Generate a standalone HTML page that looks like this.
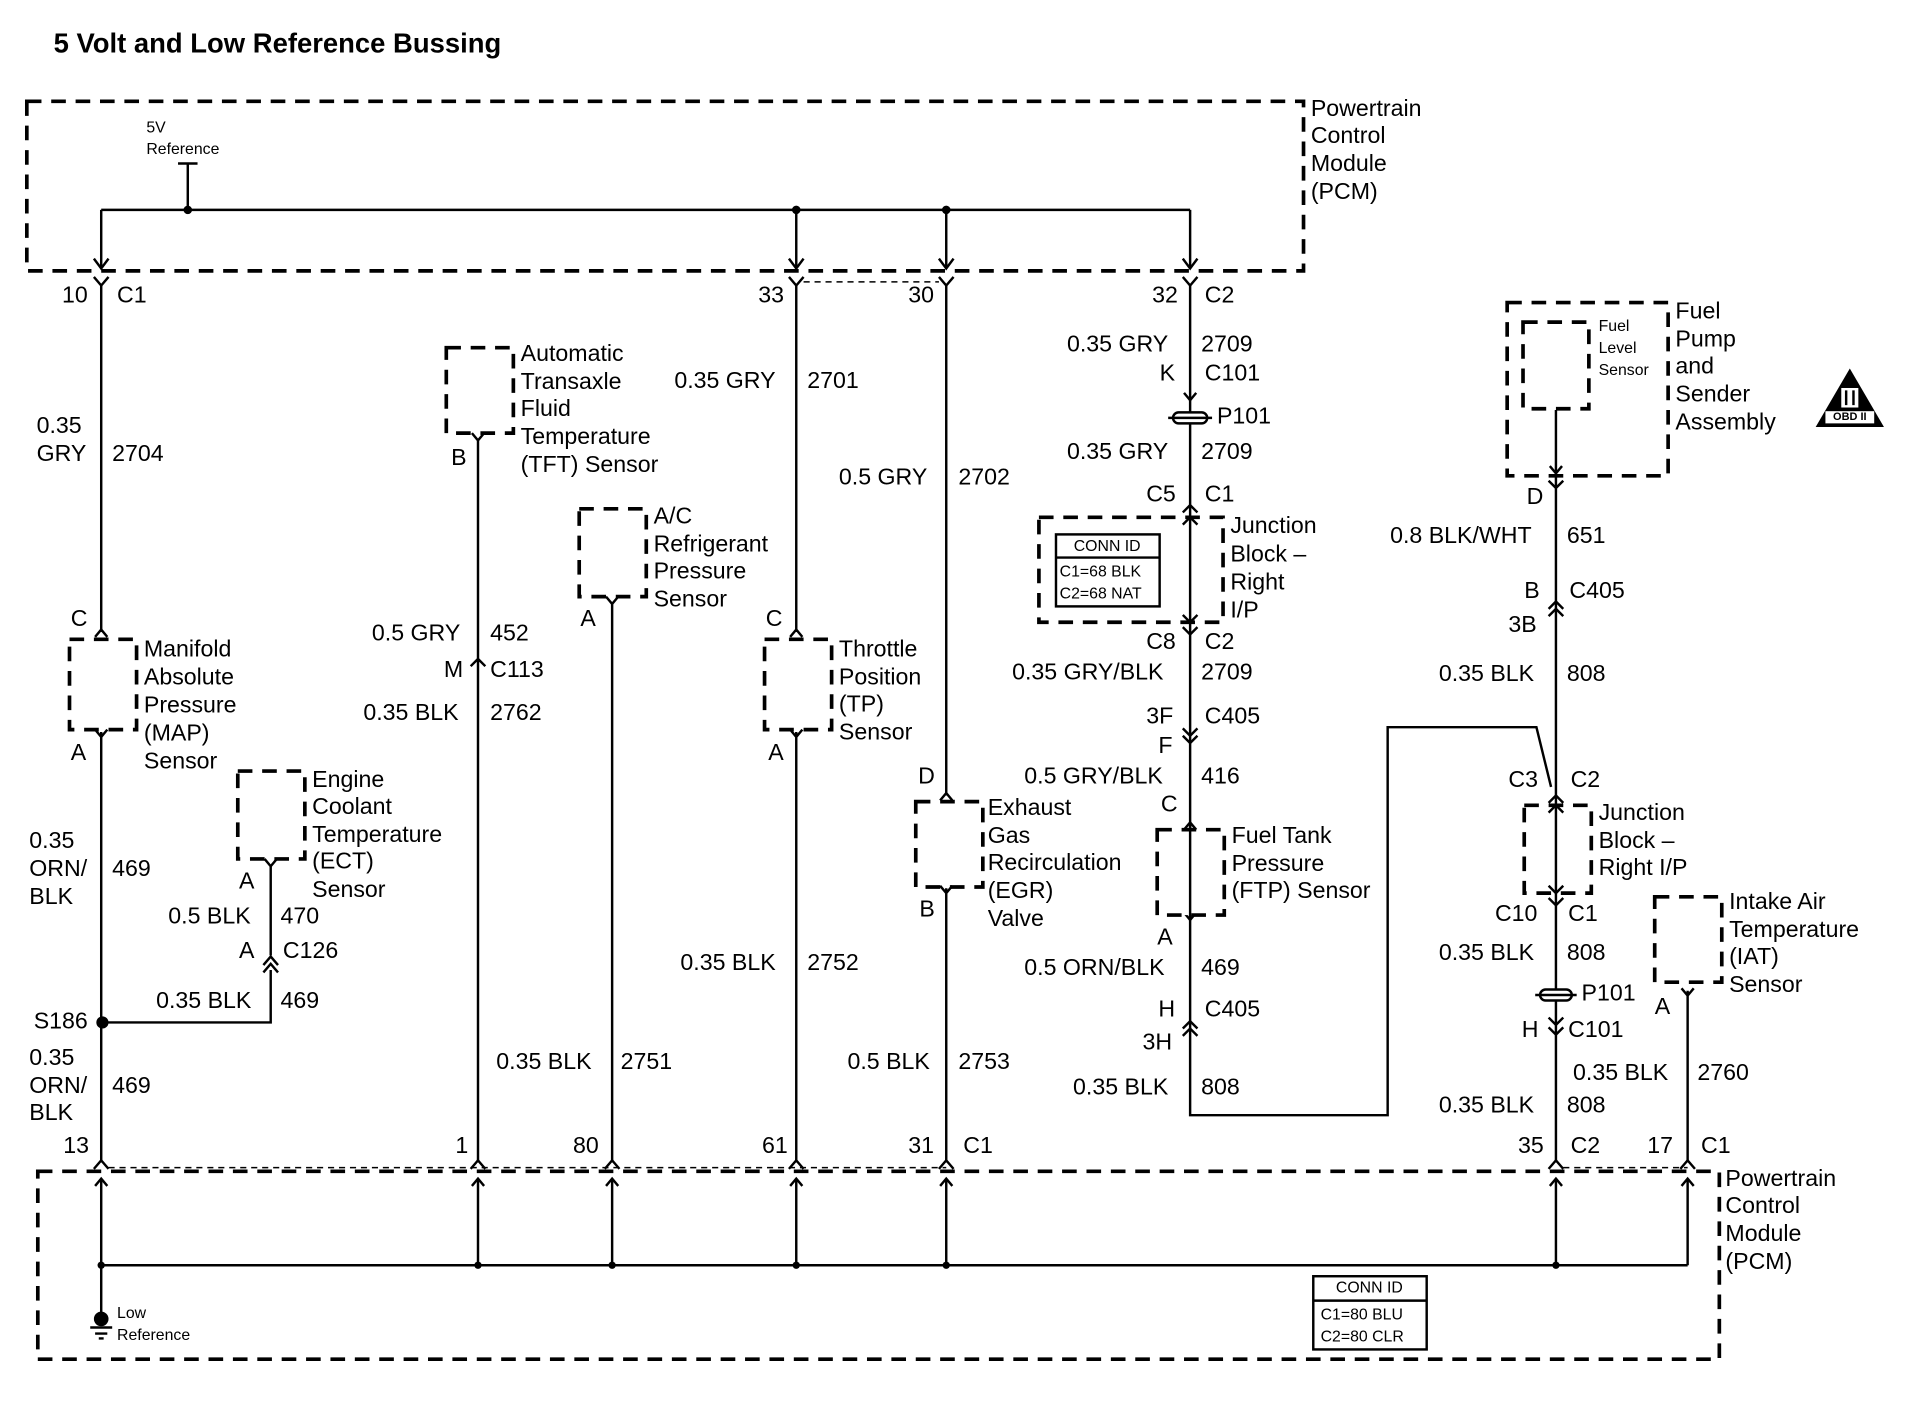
<!DOCTYPE html>
<html><head><meta charset="utf-8"><style>
html,body{margin:0;padding:0;background:#fff}
svg{display:block}
text{font-family:"Liberation Sans",Arial,sans-serif;font-size:19px;fill:#000;dominant-baseline:middle}
.s{font-size:13px}
.e{text-anchor:end}
.w{stroke:#000;stroke-width:2;fill:none}
.d{stroke:#000;stroke-width:3;fill:none;stroke-dasharray:12 8}
.t{stroke:#000;stroke-width:1.2;fill:none;stroke-dasharray:5 4}
</style></head><body>
<svg width="1912" height="1408" viewBox="0 0 1568 1154" preserveAspectRatio="none">
<text x="44" y="37" style="font-weight:bold;font-size:22.5px">5 Volt and Low Reference Bussing</text>

<!-- Top PCM -->
<rect class="d" x="22" y="83" width="1047" height="139"/>
<text x="1075" y="90">Powertrain</text><text x="1075" y="112">Control</text><text x="1075" y="135">Module</text><text x="1075" y="158">(PCM)</text>
<text class="s" x="120" y="105">5V</text><text class="s" x="120" y="123">Reference</text>
<path class="w" d="M146 134H162M154 134V172M83 172H976M83 172V220M653 172V220M776 172V220M976 172V220"/>
<circle cx="154" cy="172" r="3.5"/><circle cx="653" cy="172" r="3.5"/><circle cx="776" cy="172" r="3.5"/>
<path class="w" d="M77 212L83 220L89 212M647 212L653 220L659 212M770 212L776 220L782 212M970 212L976 220L982 212"/>
<path class="w" d="M77 227L83 234L89 227M647 227L653 234L659 227M770 227L776 234L782 227M970 227L976 234L982 227"/>
<path class="t" d="M659 231H770"/>
<text class="e" x="72" y="243">10</text><text x="96" y="243">C1</text>
<text class="e" x="643" y="243">33</text><text class="e" x="766" y="243">30</text>
<text class="e" x="966" y="243">32</text><text x="988" y="243">C2</text>

<!-- MAP column -->
<path class="w" d="M83 234V518M83 600V952"/>
<text x="30" y="350">0.35</text><text x="30" y="373">GRY</text><text x="92" y="373">2704</text>
<text x="58" y="508">C</text>
<path class="w" d="M78 522L83 516L88 522M78 598L83 604L88 598"/>
<rect class="d" x="57" y="524" width="55" height="74"/>
<text x="58" y="618">A</text>
<text x="118" y="533">Manifold</text><text x="118" y="556">Absolute</text><text x="118" y="579">Pressure</text><text x="118" y="602">(MAP)</text><text x="118" y="625">Sensor</text>
<text x="24" y="690">0.35</text><text x="24" y="713">ORN/</text><text x="24" y="736">BLK</text><text x="92" y="713">469</text>
<circle cx="84" cy="838" r="5"/>
<text class="e" x="72" y="838">S186</text>
<text x="24" y="868">0.35</text><text x="24" y="891">ORN/</text><text x="24" y="913">BLK</text><text x="92" y="891">469</text>
<path class="w" d="M84 838H222V795M222 783V710"/>
<path class="w" d="M216 791L222 784L228 791M216 797L222 790L228 797"/>
<text x="128" y="821">0.35 BLK</text><text x="230" y="821">469</text>
<text x="196" y="780">A</text><text x="232" y="780">C126</text>
<text x="138" y="752">0.5 BLK</text><text x="230" y="752">470</text>
<text x="196" y="723">A</text>
<path class="w" d="M217 704L222 710L227 704"/>
<rect class="d" x="195" y="632" width="55" height="72"/>
<text x="256" y="640">Engine</text><text x="256" y="662">Coolant</text><text x="256" y="685">Temperature</text><text x="256" y="707">(ECT)</text><text x="256" y="730">Sensor</text>

<!-- TFT -->
<rect class="d" x="366" y="285" width="55" height="70"/>
<path class="w" d="M387 355L392 361L397 355M392 361V952M386 546L392 540L398 546"/>
<text x="370" y="376">B</text>
<text x="427" y="291">Automatic</text><text x="427" y="314">Transaxle</text><text x="427" y="336">Fluid</text><text x="427" y="359">Temperature</text><text x="427" y="382">(TFT) Sensor</text>
<text x="305" y="520">0.5 GRY</text><text x="402" y="520">452</text>
<text x="364" y="550">M</text><text x="402" y="550">C113</text>
<text x="298" y="585">0.35 BLK</text><text x="402" y="585">2762</text>

<!-- A/C -->
<rect class="d" x="475" y="417" width="55" height="72"/>
<path class="w" d="M497 489L502 495L507 489M502 495V952"/>
<text x="476" y="508">A</text>
<text x="536" y="424">A/C</text><text x="536" y="447">Refrigerant</text><text x="536" y="469">Pressure</text><text x="536" y="492">Sensor</text>
<text x="407" y="871">0.35 BLK</text><text x="509" y="871">2751</text>

<!-- TP -->
<path class="w" d="M653 234V518M653 600V952M648 522L653 516L658 522M648 598L653 604L658 598"/>
<text x="553" y="313">0.35 GRY</text><text x="662" y="313">2701</text>
<text x="628" y="508">C</text>
<rect class="d" x="627" y="524" width="55" height="74"/>
<text x="630" y="618">A</text>
<text x="688" y="533">Throttle</text><text x="688" y="556">Position</text><text x="688" y="578">(TP)</text><text x="688" y="601">Sensor</text>
<text x="558" y="790">0.35 BLK</text><text x="662" y="790">2752</text>

<!-- EGR -->
<path class="w" d="M776 234V652M776 728V952M771 656L776 650L781 656M771 726L776 732L781 726"/>
<text x="688" y="392">0.5 GRY</text><text x="786" y="392">2702</text>
<text x="753" y="637">D</text>
<rect class="d" x="751" y="657" width="55" height="70"/>
<text x="754" y="746">B</text>
<text x="810" y="663">Exhaust</text><text x="810" y="686">Gas</text><text x="810" y="708">Recirculation</text><text x="810" y="731">(EGR)</text><text x="810" y="754">Valve</text>
<text x="695" y="871">0.5 BLK</text><text x="786" y="871">2753</text>

<!-- FTP / junction column -->
<path class="w" d="M976 234V914H1138V596H1260L1272 645"/>
<text x="875" y="283">0.35 GRY</text><text x="985" y="283">2709</text>
<text x="951" y="307">K</text><text x="988" y="307">C101</text>
<path class="w" d="M971 322L976 328L981 322"/>
<rect x="962" y="338" width="28" height="9" rx="4.5" fill="#fff" stroke="#000" stroke-width="2"/>
<path class="w" d="M958 342.5H994"/>
<text x="998" y="342">P101</text>
<text x="875" y="371">0.35 GRY</text><text x="985" y="371">2709</text>
<text x="940" y="406">C5</text><text x="988" y="406">C1</text>
<path class="w" d="M970 420L976 414L982 420M970 430L976 424L982 430M970 504L976 510L982 504M970 514L976 520L982 514"/>
<rect class="d" x="852" y="424" width="151" height="86"/>
<rect x="866" y="438" width="85" height="59" fill="#fff" stroke="#000" stroke-width="2"/>
<path class="w" d="M866 457H951"/>
<text x="908" y="448" style="font-size:13px;text-anchor:middle">CONN ID</text>
<text x="869" y="469" class="s">C1=68 BLK</text><text x="869" y="487" class="s">C2=68 NAT</text>
<text x="1009" y="432">Junction</text><text x="1009" y="455">Block –</text><text x="1009" y="478">Right</text><text x="1009" y="501">I/P</text>
<text x="940" y="527">C8</text><text x="988" y="527">C2</text>
<text x="830" y="552">0.35 GRY/BLK</text><text x="985" y="552">2709</text>
<text x="940" y="588">3F</text><text x="988" y="588">C405</text>
<path class="w" d="M970 597L976 603L982 597M970 603L976 609L982 603"/>
<text x="950" y="612">F</text>
<text x="840" y="637">0.5 GRY/BLK</text><text x="985" y="637">416</text>
<text x="952" y="660">C</text>
<path class="w" d="M971 680L976 674L981 680M971 748L976 754L981 748"/>
<rect class="d" x="949" y="680" width="55" height="70" style="fill:#fff"/>
<path class="w" d="M976 674V754"/>
<text x="1010" y="686">Fuel Tank</text><text x="1010" y="709">Pressure</text><text x="1010" y="731">(FTP) Sensor</text>
<text x="949" y="769">A</text>
<text x="840" y="794">0.5 ORN/BLK</text><text x="985" y="794">469</text>
<text x="950" y="828">H</text><text x="988" y="828">C405</text>
<path class="w" d="M970 843L976 837L982 843M970 849L976 843L982 849"/>
<text x="937" y="855">3H</text>
<text x="880" y="892">0.35 BLK</text><text x="985" y="892">808</text>

<!-- Fuel pump column -->
<rect class="d" x="1236" y="248" width="132" height="142"/>
<rect class="d" x="1249" y="264" width="54" height="71"/>
<text class="s" x="1311" y="268">Fuel</text><text class="s" x="1311" y="286">Level</text><text class="s" x="1311" y="304">Sensor</text>
<text x="1374" y="256">Fuel</text><text x="1374" y="279">Pump</text><text x="1374" y="301">and</text><text x="1374" y="324">Sender</text><text x="1374" y="347">Assembly</text>
<path class="w" d="M1276 336V952M1271 382L1276 388L1281 382M1270 394L1276 400L1282 394"/>
<text x="1252" y="408">D</text>
<text x="1140" y="440">0.8 BLK/WHT</text><text x="1285" y="440">651</text>
<text x="1250" y="485">B</text><text x="1287" y="485">C405</text>
<path class="w" d="M1270 499L1276 493L1282 499M1270 505L1276 499L1282 505"/>
<text x="1237" y="513">3B</text>
<text x="1180" y="553">0.35 BLK</text><text x="1285" y="553">808</text>
<text x="1237" y="640">C3</text><text x="1288" y="640">C2</text>
<path class="w" d="M1270 658L1276 652L1282 658M1270 666L1276 660L1282 666M1270 726L1276 732L1282 726M1270 736L1276 742L1282 736"/>
<rect class="d" x="1250" y="660" width="55" height="72"/>
<text x="1311" y="667">Junction</text><text x="1311" y="690">Block –</text><text x="1311" y="712">Right I/P</text>
<text x="1226" y="750">C10</text><text x="1286" y="750">C1</text>
<text x="1180" y="782">0.35 BLK</text><text x="1285" y="782">808</text>
<rect x="1263" y="811" width="26" height="9" rx="4.5" fill="#fff" stroke="#000" stroke-width="2"/>
<path class="w" d="M1259 815.5H1293"/>
<text x="1297" y="815">P101</text>
<path class="w" d="M1270 834L1276 840L1282 834M1270 842L1276 848L1282 842"/>
<text x="1248" y="845">H</text><text x="1286" y="845">C101</text>
<text x="1180" y="907">0.35 BLK</text><text x="1285" y="907">808</text>

<!-- IAT -->
<rect class="d" x="1357" y="735" width="55" height="70"/>
<path class="w" d="M1379 810L1384 816L1389 810M1384 812V952"/>
<text x="1357" y="826">A</text>
<text x="1418" y="740">Intake Air</text><text x="1418" y="763">Temperature</text><text x="1418" y="785">(IAT)</text><text x="1418" y="808">Sensor</text>
<text x="1290" y="880">0.35 BLK</text><text x="1392" y="880">2760</text>

<!-- OBD -->
<path d="M1517 302L1545 350H1489Z" fill="#000"/>
<rect x="1510" y="318" width="14" height="16" fill="#fff"/>
<path d="M1514 320V332M1520 320V332" stroke="#000" stroke-width="2"/>
<rect x="1497" y="337" width="40" height="10" fill="#fff"/>
<text x="1517" y="342" style="font-size:9px;font-weight:bold;text-anchor:middle">OBD II</text>

<!-- bottom connectors -->
<text class="e" x="73" y="940">13</text><text class="e" x="384" y="940">1</text><text class="e" x="491" y="940">80</text>
<text class="e" x="646" y="940">61</text><text class="e" x="766" y="940">31</text><text x="790" y="940">C1</text>
<text class="e" x="1266" y="940">35</text><text x="1288" y="940">C2</text>
<text class="e" x="1372" y="940">17</text><text x="1395" y="940">C1</text>
<path class="t" d="M89 957H776M1282 957H1384"/>
<path class="w" d="M77 958L83 951L89 958M386 958L392 951L398 958M496 958L502 951L508 958M647 958L653 951L659 958M770 958L776 951L782 958M1270 958L1276 951L1282 958M1378 958L1384 951L1390 958"/>
<path class="w" d="M78 972L83 966L88 972M387 972L392 966L397 972M497 972L502 966L507 972M648 972L653 966L658 972M771 972L776 966L781 972M1271 972L1276 966L1281 972M1379 972L1384 966L1389 972"/>
<rect class="d" x="31" y="960" width="1379" height="154"/>
<path class="w" d="M83 966V1080M392 966V1037M502 966V1037M653 966V1037M776 966V1037M1276 966V1037M1384 966V1037M83 1037H1384"/>
<circle cx="83" cy="1037" r="3"/><circle cx="392" cy="1037" r="3"/><circle cx="502" cy="1037" r="3"/><circle cx="653" cy="1037" r="3"/><circle cx="776" cy="1037" r="3"/><circle cx="1276" cy="1037" r="3"/>
<circle cx="83" cy="1081" r="6"/>
<path class="w" d="M74 1088H92M78 1093H88M81 1097H85"/>
<text class="s" x="96" y="1077">Low</text><text class="s" x="96" y="1095">Reference</text>
<text x="1415" y="967">Powertrain</text><text x="1415" y="989">Control</text><text x="1415" y="1012">Module</text><text x="1415" y="1035">(PCM)</text>
<rect x="1077" y="1046" width="93" height="60" fill="#fff" stroke="#000" stroke-width="2"/>
<path class="w" d="M1077 1066H1170"/>
<text x="1123" y="1056" style="font-size:13px;text-anchor:middle">CONN ID</text>
<text class="s" x="1083" y="1078">C1=80 BLU</text><text class="s" x="1083" y="1096">C2=80 CLR</text>
</svg>
</body></html>
